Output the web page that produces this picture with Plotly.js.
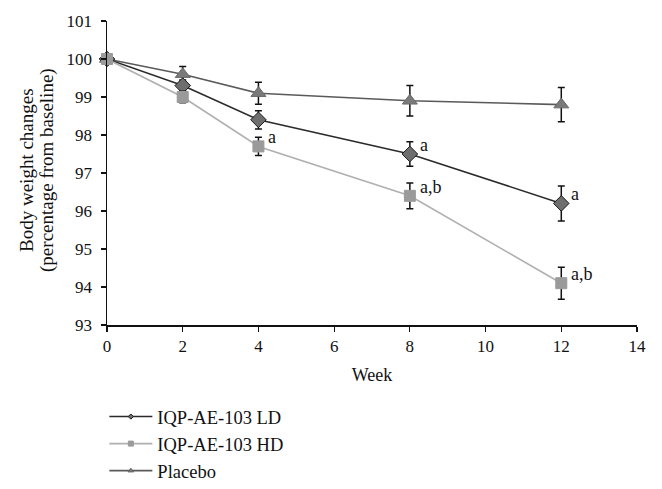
<!DOCTYPE html>
<html>
<head>
<meta charset="utf-8">
<script src="https://cdn.plot.ly/plotly-3.0.1.min.js"></script>
<style>html,body{margin:0;padding:0;background:#fff;}#chart{width:662px;height:489px;}</style>
</head>
<body>
<div id="chart"></div>
<script>
const weeks = [0, 2, 4, 8, 12];
const seriesNames = ["IQP-AE-103 LD", "IQP-AE-103 HD", "Placebo"];
const ldValues = [100, 99.3, 98.4, 97.5, 96.2];
const ldErrors = [0, 0.15, 0.24, 0.32, 0.46];
const hdValues = [100, 99.0, 97.7, 96.4, 94.1];
const hdErrors = [0, 0.15, 0.24, 0.34, 0.42];
const placeboValues = [100, 99.6, 99.1, 98.9, 98.8];
const placeboErrors = [0, 0.2, 0.29, 0.4, 0.45];
const ldLabels = ["", "", "", "a", "a"];
const hdLabels = ["", "", "a", "a,b", "a,b"];
const xTicks = [0, 2, 4, 6, 8, 10, 12, 14];
const yTicks = [93, 94, 95, 96, 97, 98, 99, 100, 101];
const yTitleLines = ["Body weight changes", "(percentage from baseline)"];
const xTitle = "Week";

const FONT = "Liberation Serif, Times New Roman, serif";

const styles = [
  {line: "#2b2b2b", marker: "diamond", size: 12, legSize: 4, fill: "#6e6e6e", outline: "#1a1a1a"},
  {line: "#b0b0b0", marker: "square", size: 11, legSize: 5, fill: "#9a9a9a", outline: "#9a9a9a"},
  {line: "#5a5a5a", marker: "triangle-up", size: 13, legSize: 5, fill: "#7a7a7a", outline: "#6a6a6a"}
];
const vals = [ldValues, hdValues, placeboValues];
const errs = [ldErrors, hdErrors, placeboErrors];

const traces = [];
[2, 0, 1].forEach(i => {
  const s = styles[i];
  traces.push({
    x: weeks, y: vals[i], type: "scatter", mode: "lines+markers",
    showlegend: false, cliponaxis: false,
    line: {color: s.line, width: 1.6},
    marker: {symbol: s.marker, size: s.size, color: s.fill, line: {color: s.outline, width: 1}},
    error_y: {type: "data", array: errs[i], visible: true, color: "#111", thickness: 1.5, width: 3.5}
  });
});
[0, 1, 2].forEach(i => {
  const s = styles[i];
  traces.push({
    x: [null], y: [null], type: "scatter", mode: "lines+markers", name: seriesNames[i],
    line: {color: s.line, width: 1.6},
    marker: {symbol: s.marker, size: s.legSize, color: s.fill, line: {color: s.outline, width: 1}}
  });
});

const annotations = [];
[[ldValues, ldLabels], [hdValues, hdLabels]].forEach(([v, labs]) => {
  labs.forEach((t, k) => {
    if (!t) return;
    annotations.push({x: weeks[k], y: v[k], text: t, showarrow: false, xanchor: "left", yanchor: "middle",
      xshift: 8, yshift: 9, font: {family: FONT, size: 18, color: "#111"}});
  });
});
yTitleLines.forEach((t, k) => {
  annotations.push({xref: "paper", yref: "paper", x: 0, y: 0.51, text: t, textangle: -90, showarrow: false,
    xanchor: "center", yanchor: "middle", xshift: -80 + k * 20, font: {family: FONT, size: 19, color: "#111"}});
});

const layout = {
  width: 662, height: 489,
  margin: {l: 107, r: 25, t: 21, b: 164},
  paper_bgcolor: "#fff", plot_bgcolor: "#fff",
  font: {family: FONT, size: 17, color: "#111"},
  xaxis: {
    range: [0, 14], tickvals: xTicks, ticks: "outside", ticklen: 5, tickwidth: 1.2, tickcolor: "#111",
    showline: true, linecolor: "#111", linewidth: 1.5, showgrid: false, zeroline: false, automargin: false,
    title: {text: xTitle, font: {family: FONT, size: 18}, standoff: 13},
    tickfont: {family: FONT, size: 17}
  },
  yaxis: {
    range: [93, 101], tickvals: yTicks, ticks: "outside", ticklen: 5, tickwidth: 1.2, tickcolor: "#111",
    showline: true, linecolor: "#111", linewidth: 1.5, showgrid: false, zeroline: false, automargin: false,
    ticklabelstandoff: 5,
    tickfont: {family: FONT, size: 17}
  },
  legend: {
    xref: "paper", yref: "container",
    x: -0.005, y: 0.186, xanchor: "left", yanchor: "top", orientation: "v",
    font: {family: FONT, size: 18.5}, itemwidth: 43, tracegroupgap: 0, bgcolor: "rgba(0,0,0,0)"
  },
  annotations: annotations
};

Plotly.newPlot("chart", traces, layout, {displayModeBar: false, staticPlot: true});
</script>
</body>
</html>
